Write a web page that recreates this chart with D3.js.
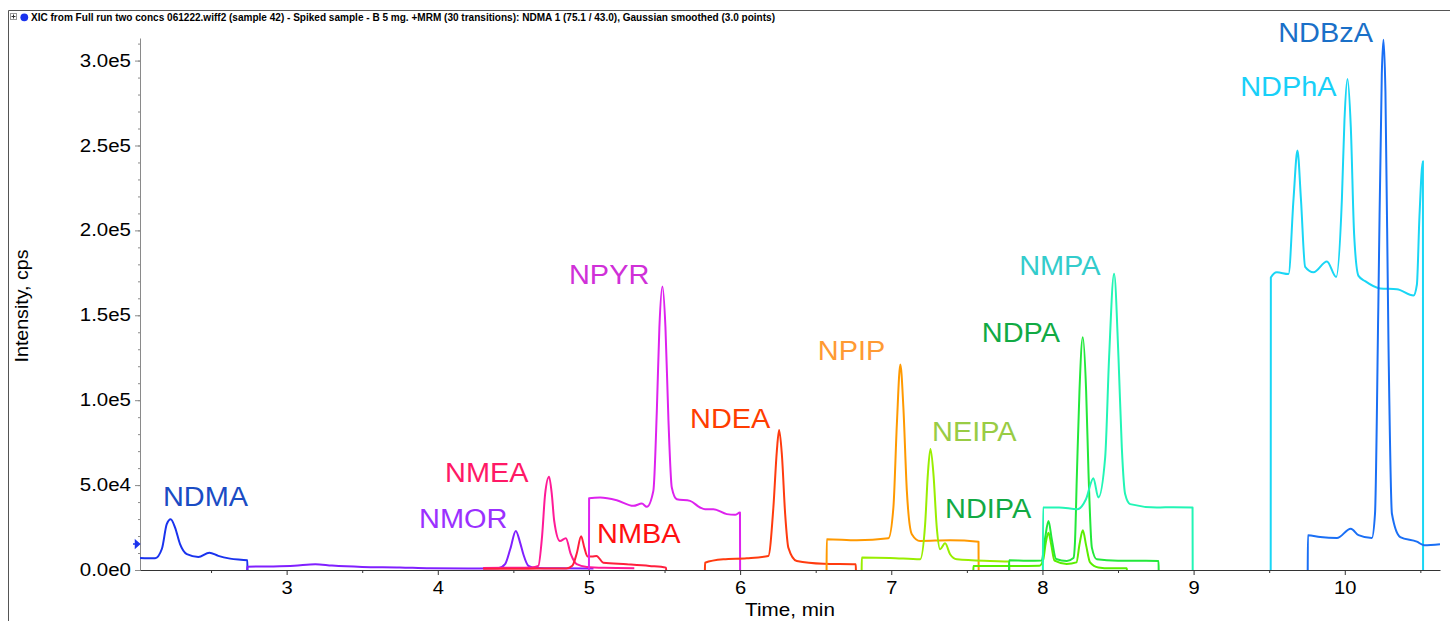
<!DOCTYPE html>
<html>
<head>
<meta charset="utf-8">
<script src="https://cdn.jsdelivr.net/npm/d3@7"></script>
<style>
  body { margin: 0; background: #fff; }
  #graf { width: 1450px; height: 621px; }
  text { font-family: 'Liberation Sans', Arial, sans-serif; }
  .eje-x path, .eje-x line { stroke: #333; }
  .eje-y path, .eje-y line { stroke: #8a8a8a; }
  .eje text { fill: #000; font-size: 17.5px; }
</style>
</head>
<body>
<div id="graf"></div>
<script>
// I. Datos: [tiempo (min), intensidad (cps)]
ndma  = [[2.03, 7100], [2.13, 6900], [2.175, 12500], [2.207, 27000], [2.233, 29900], [2.262, 25000], [2.295, 15200], [2.34, 9300], [2.416, 7700], [2.489, 10200], [2.548, 8300], [2.626, 6700], [2.74, 5700], [2.741, 0]]
nmor  = [[2.739, 0], [2.74, 1950], [2.9, 2100], [3.05, 2500], [3.19, 3400], [3.3, 2600], [3.5, 1800], [3.75, 1500], [3.95, 1000], [4.2, 900], [4.4, 1000], [4.445, 3400], [4.48, 12500], [4.516, 23000], [4.545, 16000], [4.566, 9300], [4.6, 2400], [4.65, 1200], [4.8, 1000], [5.03, 900]]
nmea  = [[4.3, 1200], [4.5, 1300], [4.62, 1500], [4.665, 2400], [4.69, 20000], [4.71, 44700], [4.736, 54900], [4.755, 44000], [4.77, 29000], [4.808, 17100], [4.847, 18700], [4.88, 9300], [4.919, 3400], [4.986, 1800], [5.1, 1300], [5.3, 1100]]
nmba  = [[4.3, 700], [4.6, 800], [4.85, 900], [4.89, 2500], [4.92, 10000], [4.948, 19900], [4.97, 13000], [4.99, 8000], [5.02, 8000], [5.05, 8300], [5.095, 4300], [5.25, 3400], [5.4, 2400], [5.51, 1400], [5.511, 0]]
npyr  = [[5.0, 0], [5.001, 42300], [5.074, 42700], [5.184, 41100], [5.294, 37800], [5.35, 39100], [5.383, 37200], [5.426, 46600], [5.449, 93800], [5.466, 143000], [5.486, 167000], [5.506, 143000], [5.526, 87900], [5.548, 48600], [5.581, 41700], [5.669, 40700], [5.735, 36800], [5.768, 35800], [5.823, 35800], [5.912, 32900], [5.967, 32500], [5.999, 33800], [6.0, 0]]
ndea  = [[5.767, 0], [5.768, 4300], [5.889, 6300], [6.044, 6900], [6.187, 8300], [6.22, 36800], [6.243, 70200], [6.258, 82400], [6.276, 68300], [6.298, 32900], [6.319, 13200], [6.375, 5300], [6.551, 3700], [6.765, 3400], [6.766, 0]]
npip  = [[6.572, 0], [6.573, 18100], [6.772, 17500], [6.981, 18700], [7.014, 36800], [7.037, 86000], [7.06, 121000], [7.08, 95800], [7.103, 46600], [7.136, 21100], [7.191, 17100], [7.389, 17500], [7.577, 16700], [7.578, 0]]
neipa = [[6.804, 0], [6.805, 7300], [6.991, 7100], [7.191, 6300], [7.224, 27000], [7.242, 56500], [7.259, 71200], [7.279, 56500], [7.301, 25000], [7.323, 12200], [7.356, 15700], [7.389, 9300], [7.434, 6300], [7.654, 5300], [7.78, 5000], [7.781, 0]]
ndipa = [[7.543, 0], [7.544, 2400], [7.75, 2300], [7.98, 2500], [8.005, 6000], [8.022, 16000], [8.04, 22000], [8.058, 15000], [8.08, 5500], [8.16, 3600], [8.225, 4500], [8.245, 15000], [8.267, 23400], [8.289, 14500], [8.315, 4500], [8.37, 1500], [8.45, 1000], [8.558, 1000], [8.559, 0]]
ndpa  = [[7.779, 0], [7.78, 5700], [7.9, 5500], [7.995, 5600], [8.018, 19000], [8.04, 28900], [8.062, 18000], [8.09, 6500], [8.161, 5300], [8.205, 7000], [8.215, 16000], [8.228, 56500], [8.245, 105600], [8.267, 137000], [8.289, 105600], [8.305, 56500], [8.327, 13200], [8.36, 6300], [8.5, 5500], [8.65, 5400], [8.768, 5300], [8.769, 0]]
nmpa  = [[8.003, 0], [8.004, 36800], [8.11, 36800], [8.232, 35800], [8.288, 41700], [8.337, 54100], [8.37, 42700], [8.415, 66300], [8.441, 125300], [8.474, 174500], [8.503, 125300], [8.525, 72200], [8.547, 44700], [8.58, 38800], [8.757, 36800], [8.867, 37000], [8.993, 36800], [8.994, 0]]
ndpha = [[9.51, 0], [9.511, 172200], [9.551, 175300], [9.628, 174300], [9.661, 218500], [9.687, 247000], [9.71, 218500], [9.738, 178500], [9.793, 175300], [9.882, 181700], [9.943, 172600], [9.981, 218500], [9.998, 264900], [10.018, 289200], [10.04, 260700], [10.062, 197500], [10.091, 173200], [10.135, 170100], [10.234, 165800], [10.345, 165400], [10.455, 161700], [10.477, 168000], [10.494, 208000], [10.517, 240700], [10.518, 0]]
ndbza = [[9.755, 0], [9.756, 20500], [9.837, 19400], [9.948, 18800], [10.04, 24300], [10.091, 20500], [10.179, 18800], [10.2, 33100], [10.222, 155300], [10.245, 292300], [10.256, 312300], [10.269, 281800], [10.289, 134300], [10.312, 33100], [10.367, 19400], [10.477, 16700], [10.525, 14600], [10.63, 15200]]

compuestos = ['NDMA', 'NMOR', 'NMEA', 'NMBA', 'NPYR', 'NDEA', 'NPIP', 'NEIPA', 'NDIPA', 'NDPA', 'NMPA', 'NDPhA', 'NDBzA']
trazas = [ndma, nmor, nmea, nmba, npyr, ndea, npip, neipa, ndipa, ndpa, nmpa, ndpha, ndbza]
// ancla de cada nombre en unidades de datos (tiempo, intensidad)
posEtiquetas = [[2.182, 37800], [3.876, 24800], [4.048, 51900], [5.054, 15900], [4.868, 168700], [5.669, 83800], [6.514, 123900], [7.27, 76100], [7.356, 30900], [7.599, 134500], [7.846, 173500], [9.308, 279100], [9.56, 310900]]

ticksX = [3, 4, 5, 6, 7, 8, 9, 10]
ticksY = [0, 50000, 100000, 150000, 200000, 250000, 300000]
etiquetasY = ['0.0e0', '5.0e4', '1.0e5', '1.5e5', '2.0e5', '2.5e5', '3.0e5']
dominioX = [2.03, 10.63]
dominioY = [0, 313300]
nivelMarca = 15300

titulo = 'XIC from Full run two concs 061222.wiff2 (sample 42) - Spiked sample - B 5 mg. +MRM (30 transitions): NDMA 1 (75.1 / 43.0), Gaussian smoothed (3.0 points)'

colorTraza = ['#1a33ee', '#8020ff', '#ff1a96', '#ff1f3d', '#dd22ee', '#ff3b0f', '#ff9900', '#99ee00', '#5aee00', '#22e83a', '#22f5b5', '#19d6f5', '#1a6ff5']
colorEtiqueta = ['#1a4cc4', '#9b30ff', '#ff1966', '#ff1010', '#d030d8', '#ff3d00', '#ff9a33', '#99cc44', '#11aa44', '#11aa44', '#33cccc', '#18d0f8', '#1a70c8']

// II. Configuración
graf = d3.select('#graf')
ancho_total = 1450
alto_total = 621

margins = { top: 38, left: 140, right: 10, bottom: 51 }
ancho = ancho_total - margins.left - margins.right
alto  = alto_total - margins.top - margins.bottom

svg = graf.append('svg')
          .attr('width', ancho_total)
          .attr('height', alto_total)

// estira el texto a lo ancho (la fuente original es más ancha)
function estirar(sel, f) {
  sel.each(function() {
    const n = this.getComputedTextLength()
    d3.select(this)
      .attr('textLength', n * f)
      .attr('lengthAdjust', 'spacingAndGlyphs')
  })
}

// marco y barra del título
svg.append('path')
   .attr('d', 'M8.5,621 V10.5 H1450')
   .style('fill', 'none')
   .style('stroke', '#555')
svg.append('rect')
   .attr('x', 10.5).attr('y', 13.5).attr('width', 6).attr('height', 6)
   .style('fill', '#fff').style('stroke', '#999')
svg.append('path')
   .attr('d', 'M11.5,16.5 h4 M13.5,14.5 v4')
   .style('stroke', '#333')
svg.append('circle')
   .attr('cx', 24.3).attr('cy', 17.3).attr('r', 3.9)
   .style('fill', '#1a33ee')
svg.append('text')
   .attr('x', 31).attr('y', 21)
   .style('font-size', '10px')
   .style('font-weight', 'bold')
   .attr('textLength', 744)
   .attr('lengthAdjust', 'spacingAndGlyphs')
   .text(titulo)

g = svg.append('g')
        .attr('transform', `translate(${ margins.left }, ${ margins.top })`)

// III. Escaladores
x = d3.scaleLinear().domain(dominioX).range([0, ancho])
y = d3.scaleLinear().domain(dominioY).range([alto, 0])

// IV. Ejes
yMenor = g.append('g').attr('class', 'eje eje-y')
          .call(d3.axisLeft(y).tickValues(d3.range(0, dominioY[1], 10000)).tickSize(2).tickSizeOuter(0).tickFormat(''))
yMenor.select('.domain').remove()

yAxisGroup = g.append('g').attr('class', 'eje eje-y')
yAxisGroup.call(d3.axisLeft(y)
                  .tickValues(ticksY)
                  .tickSize(5)
                  .tickSizeOuter(0)
                  .tickPadding(4)
                  .tickFormat((d, i) => etiquetasY[i]))
estirar(yAxisGroup.selectAll('text'), 1.17)

xMenor = g.append('g').attr('class', 'eje eje-x')
          .attr('transform', `translate(0, ${ alto })`)
          .call(d3.axisBottom(x).tickValues([2.5, 3.5, 4.5, 5.5, 6.5, 7.5, 8.5, 9.5, 10.5]).tickSize(3).tickSizeOuter(0).tickFormat(''))
xMenor.select('.domain').remove()

xAxisGroup = g.append('g').attr('class', 'eje eje-x')
              .attr('transform', `translate(0, ${ alto })`)
xAxisGroup.call(d3.axisBottom(x)
                  .tickValues(ticksX)
                  .tickSize(5)
                  .tickSizeOuter(0)
                  .tickPadding(7))
estirar(xAxisGroup.selectAll('text'), 1.15)

tituloX = g.append('text')
           .attr('x', ancho / 2)
           .attr('y', alto + 46)
           .attr('text-anchor', 'middle')
           .style('font-size', '17.5px')
           .text('Time, min')
estirar(tituloX, 1.18)

tituloY = svg.append('text')
           .attr('transform', `translate(28, ${ margins.top + alto / 2 + 2 }) rotate(-90)`)
           .attr('text-anchor', 'middle')
           .style('font-size', '17.5px')
           .text('Intensity, cps')
estirar(tituloY, 1.12)

// flecha azul del nivel de referencia
g.append('path')
 .attr('d', `M-7,${ y(nivelMarca) } h3 M-4.5,${ y(nivelMarca) - 3.5 } L-0.5,${ y(nivelMarca) } L-4.5,${ y(nivelMarca) + 3.5 } Z`)
 .style('fill', '#1a33ee')
 .style('stroke', '#1a33ee')
 .style('stroke-width', '1.5px')

// V. Trazas
linea = d3.line()
          .x(d => x(d[0]))
          .y(d => y(d[1]))
          .curve(d3.curveMonotoneX)

g.selectAll('.traza')
 .data(trazas)
 .enter()
 .append('path')
   .attr('class', 'traza')
   .attr('d', linea)
   .style('fill', 'none')
   .style('stroke', (d, i) => colorTraza[i])
   .style('stroke-width', '2px')
   .style('stroke-linejoin', 'round')

// VI. Nombres de los picos
etiquetas = g.selectAll('.etiqueta')
             .data(compuestos)
             .enter()
             .append('text')
               .attr('class', 'etiqueta')
               .attr('x', (d, i) => x(posEtiquetas[i][0]))
               .attr('y', (d, i) => y(posEtiquetas[i][1]))
               .style('fill', (d, i) => colorEtiqueta[i])
               .style('font-size', '27px')
               .text(d => d)
estirar(etiquetas, 1.07)
</script>
</body>
</html>
